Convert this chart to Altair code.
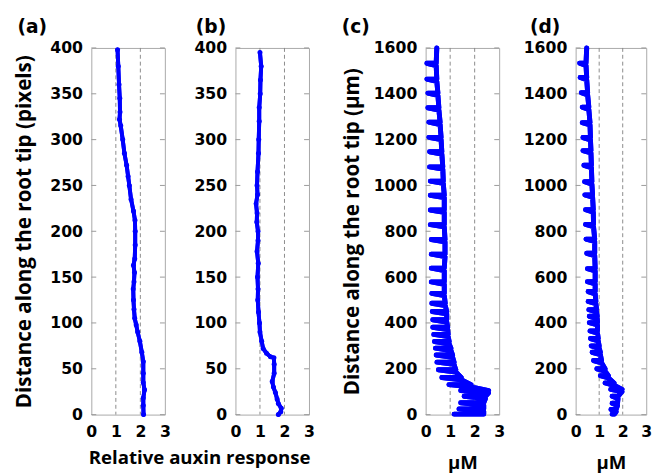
import altair as alt
import pandas as pd

# ---------------- data ----------------
# (a) relative auxin response vs distance (pixels)
a_dist = [398, 380, 360, 345, 330, 322, 315, 300, 285, 272, 260, 250, 235, 222, 212, 200,
          185, 170, 163, 155, 145, 137, 125, 115, 105, 98, 90, 80, 68, 58, 45, 35, 27, 18, 10, 0]
a_resp = [1.07, 1.10, 1.13, 1.16, 1.17, 1.15, 1.20, 1.28, 1.35, 1.44, 1.50, 1.55, 1.62, 1.72, 1.78, 1.79,
          1.79, 1.77, 1.72, 1.76, 1.74, 1.71, 1.72, 1.74, 1.77, 1.83, 1.89, 1.98, 2.06, 2.12, 2.12, 2.12,
          2.17, 2.12, 2.12, 2.13]

# (b)
b_dist = [395, 380, 365, 350, 335, 320, 300, 285, 265, 250, 240, 230, 220, 210, 200, 190, 178, 165,
          150, 137, 125, 112, 100, 90, 80, 72, 67, 63, 62, 55, 45, 36, 30, 24, 17, 12, 7, 3, 0]
b_resp = [1.00, 1.05, 1.02, 1.01, 0.97, 0.97, 0.95, 0.94, 0.90, 0.88, 0.90, 0.84, 0.88, 0.87, 0.92, 0.92,
          0.88, 0.93, 0.90, 0.92, 0.91, 0.94, 0.98, 1.00, 1.07, 1.13, 1.27, 1.43, 1.57, 1.58, 1.58, 1.50,
          1.55, 1.63, 1.70, 1.75, 1.87, 1.85, 1.75]

# (c) model, µM vs distance (µm): cell-wise teeth
c_top = (0.455, 1600)
c_tooth_y = [1533, 1464, 1403, 1339, 1276, 1210, 1147, 1081, 1019, 957, 893, 829, 764, 700, 639, 579,
             529, 486, 450, 414, 381, 350, 319, 290, 260, 229, 196, 162, 131, 105, 80, 52, 25, 2]
c_lo = [0.05, 0.05, 0.09, 0.09, 0.13, 0.13, 0.16, 0.16, 0.19, 0.19, 0.19, 0.19, 0.23, 0.23, 0.23, 0.23,
        0.25, 0.25, 0.27, 0.29, 0.29, 0.33, 0.36, 0.40, 0.43, 0.46, 0.52, 0.66, 0.95, 1.43, 1.57, 1.43,
        1.36, 1.16]
c_hi = [0.43, 0.455, 0.50, 0.54, 0.59, 0.63, 0.66, 0.70, 0.72, 0.76, 0.76, 0.76, 0.79, 0.79, 0.76, 0.76,
        0.76, 0.80, 0.86, 0.86, 0.90, 0.92, 0.96, 1.03, 1.10, 1.16, 1.23, 1.45, 1.85, 2.57, 2.44, 2.37,
        2.37, 2.37]

# (d) model
d_top = (0.47, 1600)
d_tooth_y = [1534, 1471, 1405, 1342, 1274, 1209, 1152, 1088, 1016, 959, 894, 830, 766, 704, 637, 580,
             537, 494, 458, 429, 401, 365, 332, 300, 272, 236, 200, 170, 138, 110, 80, 50, 22, 2]
d_lo = [0.17, 0.19, 0.24, 0.28, 0.28, 0.31, 0.31, 0.35, 0.38, 0.39, 0.42, 0.42, 0.44, 0.47, 0.50, 0.50,
        0.53, 0.53, 0.56, 0.58, 0.58, 0.61, 0.63, 0.66, 0.70, 0.76, 0.90, 1.05, 1.25, 1.49, 1.55, 1.55,
        1.50, 1.55]
d_hi = [0.44, 0.47, 0.51, 0.56, 0.61, 0.63, 0.65, 0.67, 0.69, 0.72, 0.75, 0.76, 0.81, 0.81, 0.83, 0.83,
        0.83, 0.86, 0.89, 0.92, 0.93, 0.93, 0.96, 1.00, 1.05, 1.10, 1.25, 1.39, 1.63, 1.97, 1.80, 1.78,
        1.72, 1.65]

x_ticks = [0, 1, 2, 3]
grid_x = [1, 2]
ticks_px = [0, 50, 100, 150, 200, 250, 300, 350, 400]
ticks_um = [0, 200, 400, 600, 800, 1000, 1200, 1400, 1600]

# ---------------- helpers ----------------
H = 374
BLUE = "#0000ff"
LABEL_FONT = "DejaVu Sans"
TITLE_FONT = "Open Sans"


def tooth_path(top, ty, lo, hi, ret=10):
    xs, ys = [top[0]], [top[1]]
    for y, l, h in zip(ty, lo, hi):
        xs += [h, l]
        ys += [y, y]
        if y - ret >= 0:
            xs.append(h)
            ys.append(y - ret)
    return pd.DataFrame({"x": xs, "y": ys, "i": range(len(xs))})


def panel(df, ymax, yticks, w, letter, ytitle="", xtitle="", xtitle_x=None,
          xtitle_pad=13, ytitle_pad=14, title_dx=0, points=False, sw=4.5):
    xscale = alt.Scale(domain=[0, 3], nice=False, zero=False)
    yscale = alt.Scale(domain=[0, ymax], nice=False, zero=False)

    xaxis_kw = dict(values=x_ticks, labelFlush=False, labelPadding=9, ticks=False,
                    domain=False, grid=False, labelFont=LABEL_FONT, labelFontSize=16,
                    labelFontWeight="bold", labelColor="black", format="d",
                    titleFont=TITLE_FONT, titleFontSize=19, titleFontWeight="bold",
                    titleColor="black", titlePadding=xtitle_pad)
    if xtitle_x is not None:
        xaxis_kw.update(titleX=xtitle_x)
    yaxis_kw = dict(values=yticks, labelPadding=9, ticks=False, domain=False, grid=False,
                    labelFont=LABEL_FONT, labelFontSize=16, labelFontWeight="bold",
                    labelColor="black", format="d",
                    titleFont=TITLE_FONT, titleFontSize=21, titleFontWeight="bold",
                    titleColor="black", titlePadding=ytitle_pad)
    xaxis = alt.Axis(**xaxis_kw)
    yaxis = alt.Axis(**yaxis_kw)

    def X(field):
        return alt.X(field, scale=xscale, axis=xaxis, title=xtitle)

    def Y(field):
        return alt.Y(field, scale=yscale, axis=yaxis, title=ytitle)

    line = alt.Chart(df).mark_line(color=BLUE, strokeWidth=sw, strokeCap="round",
                                   strokeJoin="round").encode(
        x=X("x:Q"), y=Y("y:Q"), order=alt.Order("i:Q"))

    gdf = pd.DataFrame({"g": grid_x})
    grid = alt.Chart(gdf).mark_rule(color="#8a8a8a", strokeDash=[4, 3], strokeWidth=1).encode(
        x=X("g:Q"))

    tdf = pd.DataFrame({"t": yticks})
    tl = alt.Chart(tdf).mark_rule(color="#9a9a9a", strokeWidth=1).encode(
        y=Y("t:Q"), x=alt.value(0), x2=alt.value(5))
    tr = alt.Chart(tdf).mark_rule(color="#9a9a9a", strokeWidth=1).encode(
        y=Y("t:Q"), x=alt.value(w - 5), x2=alt.value(w))

    layers = [line, grid, tl, tr, line]
    if points:
        pts = alt.Chart(df).mark_circle(color=BLUE, size=26, opacity=1).encode(
            x=X("x:Q"), y=Y("y:Q"))
        layers.append(pts)
    return alt.layer(*layers).properties(
        width=w, height=H,
        title=alt.TitleParams(text=letter, anchor="start", frame="bounds", font=LABEL_FONT,
                              fontSize=19, fontWeight="bold", color="black", offset=3,
                              dx=title_dx),
    )


def spacer(w):
    sdf = pd.DataFrame({"s": [0]})
    return alt.Chart(sdf).mark_point(opacity=0).encode(
        x=alt.X("s:Q", axis=None), y=alt.Y("s:Q", axis=None)
    ).properties(width=w, height=H, view=alt.ViewBackground(stroke="transparent"))


a_df = pd.DataFrame({"x": a_resp, "y": a_dist, "i": range(len(a_dist))})
b_df = pd.DataFrame({"x": b_resp, "y": b_dist, "i": range(len(b_dist))})
c_df = tooth_path(c_top, c_tooth_y, c_lo, c_hi)
d_df = tooth_path(d_top, d_tooth_y, d_lo, d_hi)

pa = panel(a_df, 400, ticks_px, 75, "(a)", ytitle="Distance along the root tip (pixels)",
           xtitle="Relative auxin response", xtitle_x=110, xtitle_pad=10, ytitle_pad=16,
           title_dx=4, points=True, sw=4)
pb = panel(b_df, 400, ticks_px, 75, "(b)", title_dx=2, points=True, sw=4)
pc = panel(c_df, 1600, ticks_um, 75, "(c)", ytitle="Distance along the root tip (μm)",
           xtitle="μM", xtitle_pad=15, ytitle_pad=11, title_dx=0, sw=5)
pd_ = panel(d_df, 1600, ticks_um, 72, "(d)", xtitle="μM", xtitle_pad=15, title_dx=7, sw=5)

chart = alt.hconcat(pa, spacer(72), pb, spacer(119), pc, spacer(78), pd_,
                    spacing=0, bounds="flush").configure_view(stroke="#a8a8a8", strokeWidth=1)

chart.save("out.html", embed_options={"renderer": "svg", "actions": False})
